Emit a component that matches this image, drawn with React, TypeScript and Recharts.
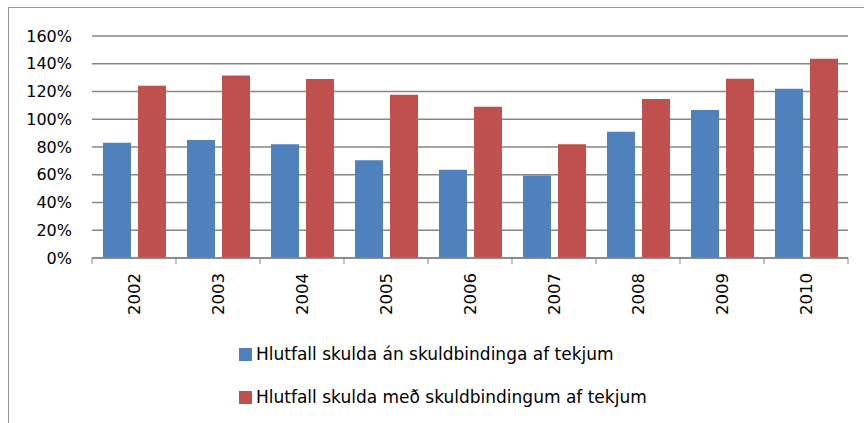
import React from 'react';
import { BarChart, Bar, XAxis, YAxis, CartesianGrid, Legend } from 'recharts';

const years = ['2002', '2003', '2004', '2005', '2006', '2007', '2008', '2009', '2010'];
const withoutCommitments = [0.831, 0.85, 0.819, 0.704, 0.636, 0.595, 0.91, 1.067, 1.22];
const withCommitments = [1.242, 1.316, 1.29, 1.177, 1.09, 0.819, 1.146, 1.292, 1.436];
const yTicks = [0, 0.2, 0.4, 0.6, 0.8, 1.0, 1.2, 1.4, 1.6];
const seriesNames = [
  'Hlutfall skulda án skuldbindinga af tekjum',
  'Hlutfall skulda með skuldbindingum af tekjum',
];
const colors = ['#4F81BD', '#C0504D'];

const data = years.map((year, i) => ({
  year,
  a: withoutCommitments[i],
  b: withCommitments[i],
}));

const FONT = '"DejaVu Sans", sans-serif';
const AXIS_GRAY = '#868686';
const PLOT_BOTTOM = 250;
const BAND = 756 / years.length;

// Excel style: tick marks sit between categories, labels rotated
const YearTick = (props: any) => {
  const { x, y, payload } = props;
  const isLast = payload.value === years[years.length - 1];
  return (
    <g>
      <line x1={x - BAND / 2} x2={x - BAND / 2} y1={PLOT_BOTTOM} y2={PLOT_BOTTOM + 6} stroke={AXIS_GRAY} />
      {isLast && (
        <line x1={x + BAND / 2} x2={x + BAND / 2} y1={PLOT_BOTTOM} y2={PLOT_BOTTOM + 6} stroke={AXIS_GRAY} />
      )}
      <text
        x={x}
        y={y}
        transform={`rotate(-90, ${x}, ${y})`}
        textAnchor="end"
        dy="0.36em"
        fontFamily={FONT}
        fontSize={16.5}
        fill="#000"
      >
        {payload.value}
      </text>
    </g>
  );
};

const LegendBox = (props: any) => {
  const items = props.payload || [];
  return (
    <div style={{ fontFamily: FONT, fontSize: 17, color: '#000' }}>
      {items.map((item: any, i: number) => (
        <div
          key={item.value}
          style={{ display: 'flex', alignItems: 'center', height: 28, marginBottom: i === 0 ? 15 : 0 }}
        >
          <span style={{ display: 'inline-block', width: 13, height: 13, background: item.color, marginRight: 4 }} />
          <span style={{ whiteSpace: 'nowrap' }}>{item.value}</span>
        </div>
      ))}
    </div>
  );
};

export default function App() {
  return (
    <div
      style={{
        position: 'absolute',
        top: 7,
        left: 8,
        width: 855,
        height: 415,
        borderTop: '1px solid #9a9a9a',
        borderLeft: '1px solid #9a9a9a',
        background: '#fff',
      }}
    >
      <BarChart
        width={855}
        height={415}
        data={data}
        margin={{ top: 28, right: 16, left: 0, bottom: 85 }}
        barSize={28}
        barGap={7}
      >
        <CartesianGrid vertical={false} stroke={AXIS_GRAY} strokeWidth={1.3} />
        <XAxis
          dataKey="year"
          height={80}
          axisLine={{ stroke: AXIS_GRAY, strokeWidth: 1.3 }}
          tickLine={false}
          tickSize={6}
          tickMargin={9}
          interval={0}
          tick={<YearTick />}
        />
        <YAxis
          width={83}
          domain={[0, 1.6]}
          ticks={yTicks}
          axisLine={false}
          tickLine={false}
          tickSize={6}
          tickMargin={14}
          tickFormatter={(v: number) => `${Math.round(v * 100)}%`}
          tick={{ fontFamily: FONT, fontSize: 16, fill: '#000' }}
        />
        <Legend
          verticalAlign="middle"
          align="center"
          itemSorter={(item: any) => seriesNames.indexOf(item.value)}
          content={<LegendBox />}
          wrapperStyle={{ top: 332, left: 230, width: 600 }}
        />
        <Bar dataKey="a" name={seriesNames[0]} fill={colors[0]} isAnimationActive={false} />
        <Bar dataKey="b" name={seriesNames[1]} fill={colors[1]} isAnimationActive={false} />
      </BarChart>
    </div>
  );
}
